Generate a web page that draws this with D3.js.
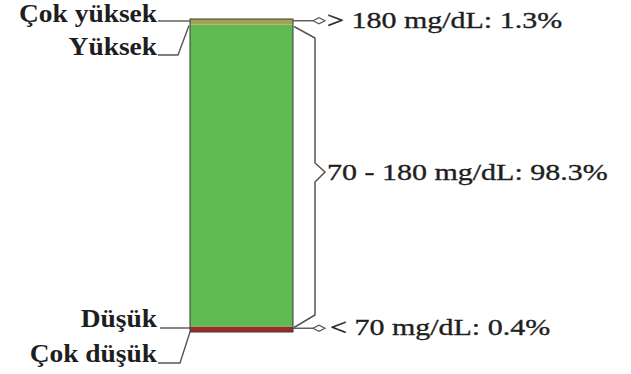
<!DOCTYPE html>
<html>
<head>
<meta charset="utf-8">
<script src="https://cdn.jsdelivr.net/npm/d3@7"></script>
<style>
  html, body { margin: 0; padding: 0; background: #fff; }
  svg { display: block; }
  text { font-family: "Liberation Serif", "Times New Roman", serif; fill: #1e1e1e; }
</style>
</head>
<body>
<svg id="chart" width="631" height="374"></svg>
<script>
// ---- data ----
const categories = ["Çok düşük", "Düşük", "Hedef", "Yüksek", "Çok yüksek"];
const values = [0, 0.4, 98.3, 1.3, 0];           // % of time
const colors = ["#7a1f1f", "#9b2b28", "#60b953", "#a3a24e", "#c98a3a"];
const rangeLabels = ["> 180 mg/dL: 1.3%", "70 - 180 mg/dL: 98.3%", "< 70 mg/dL: 0.4%"];

const svg = d3.select("#chart");
const barX0 = 190, barX1 = 293;
const y = d3.scaleLinear().domain([0, 100]).range([332, 19]);
const minBand = 5.5;

// stacked segments with a minimum visible thickness for thin non-zero bands
const lowTotal = values[0] + values[1];
const highTotal = values[3] + values[4];
const lowTop = y(0) - Math.max(y(0) - y(lowTotal), lowTotal > 0 ? minBand : 0);
const highBottom = y(100) + Math.max(y(100 - highTotal) - y(100), highTotal > 0 ? minBand : 0);

const segs = [
  { key: categories[1], y0: y(0), y1: lowTop, color: colors[1] },
  { key: categories[2], y0: lowTop, y1: highBottom, color: colors[2] },
  { key: categories[3], y0: highBottom, y1: y(100), color: colors[3] }
];

svg.selectAll("rect.seg").data(segs).join("rect")
  .attr("class", "seg")
  .attr("x", barX0).attr("width", barX1 - barX0)
  .attr("y", d => d.y1).attr("height", d => d.y0 - d.y1)
  .attr("fill", d => d.color);

// outline
svg.append("rect")
  .attr("x", barX0).attr("y", y(100)).attr("width", barX1 - barX0).attr("height", y(0) - y(100))
  .attr("fill", "none").attr("stroke", "#3a3a3a").attr("stroke-width", 1);

const line = d3.line();
const lc = "#555";

// ---- left labels with leader lines ----
const botY = y(0);
const leftLabels = [
  { text: categories[4], ty: 22, pts: [[158, 21], [barX0, 21]] },
  { text: categories[3], ty: 55, pts: [[158, 55], [178, 55], [barX0 - 1, highBottom + 1]] },
  { text: categories[1], ty: 327, pts: [[160, 328], [barX0, 328]] },
  { text: categories[0], ty: 362, pts: [[158, 363], [180, 363], [barX0, botY]] }
];
leftLabels.forEach(l => {
  svg.append("path").attr("d", line(l.pts)).attr("fill", "none")
    .attr("stroke", lc).attr("stroke-width", 1.4);
  svg.append("text")
    .attr("transform", `translate(157,${l.ty}) scale(1.12,1)`)
    .attr("text-anchor", "end")
    .attr("font-size", 24.5).attr("font-weight", "bold")
    .text(l.text);
});

// ---- right side: arrows, brace, labels ----
function arrow(yy) {
  svg.append("path").attr("d", line([[barX1, yy], [313, yy]]))
    .attr("stroke", lc).attr("stroke-width", 1.4).attr("fill", "none");
  svg.append("path").attr("d", line([[313, yy], [319, yy - 3], [325, yy], [319, yy + 3], [313, yy]]))
    .attr("stroke", lc).attr("stroke-width", 1.2).attr("fill", "none");
}
const topMid = (y(100) + highBottom) / 2;
const botMid = (y(0) + lowTop) / 2;
arrow(topMid - 1);
arrow(botMid - 1);

// brace spanning the in-range band
const braceX = 315, tipX = 325;
const midY = 172;
svg.append("path")
  .attr("d", line([[barX1 + 1, highBottom + 2], [braceX, 38], [braceX, midY - 9], [tipX, midY],
                   [braceX, midY + 10], [braceX, 315], [barX1 + 1, lowTop + 1]]))
  .attr("fill", "none").attr("stroke", lc).attr("stroke-width", 1.5);

const rightLabels = [
  { text: rangeLabels[0], x: 327, ty: 28 },
  { text: rangeLabels[1], x: 327, ty: 180 },
  { text: rangeLabels[2], x: 330, ty: 335 }
];
rightLabels.forEach(l => {
  svg.append("text")
    .attr("transform", `translate(${l.x},${l.ty}) scale(1.25,1)`)
    .attr("font-size", 24)
    .attr("stroke", "#1e1e1e").attr("stroke-width", 0.35)
    .text(l.text);
});
</script>
</body>
</html>
